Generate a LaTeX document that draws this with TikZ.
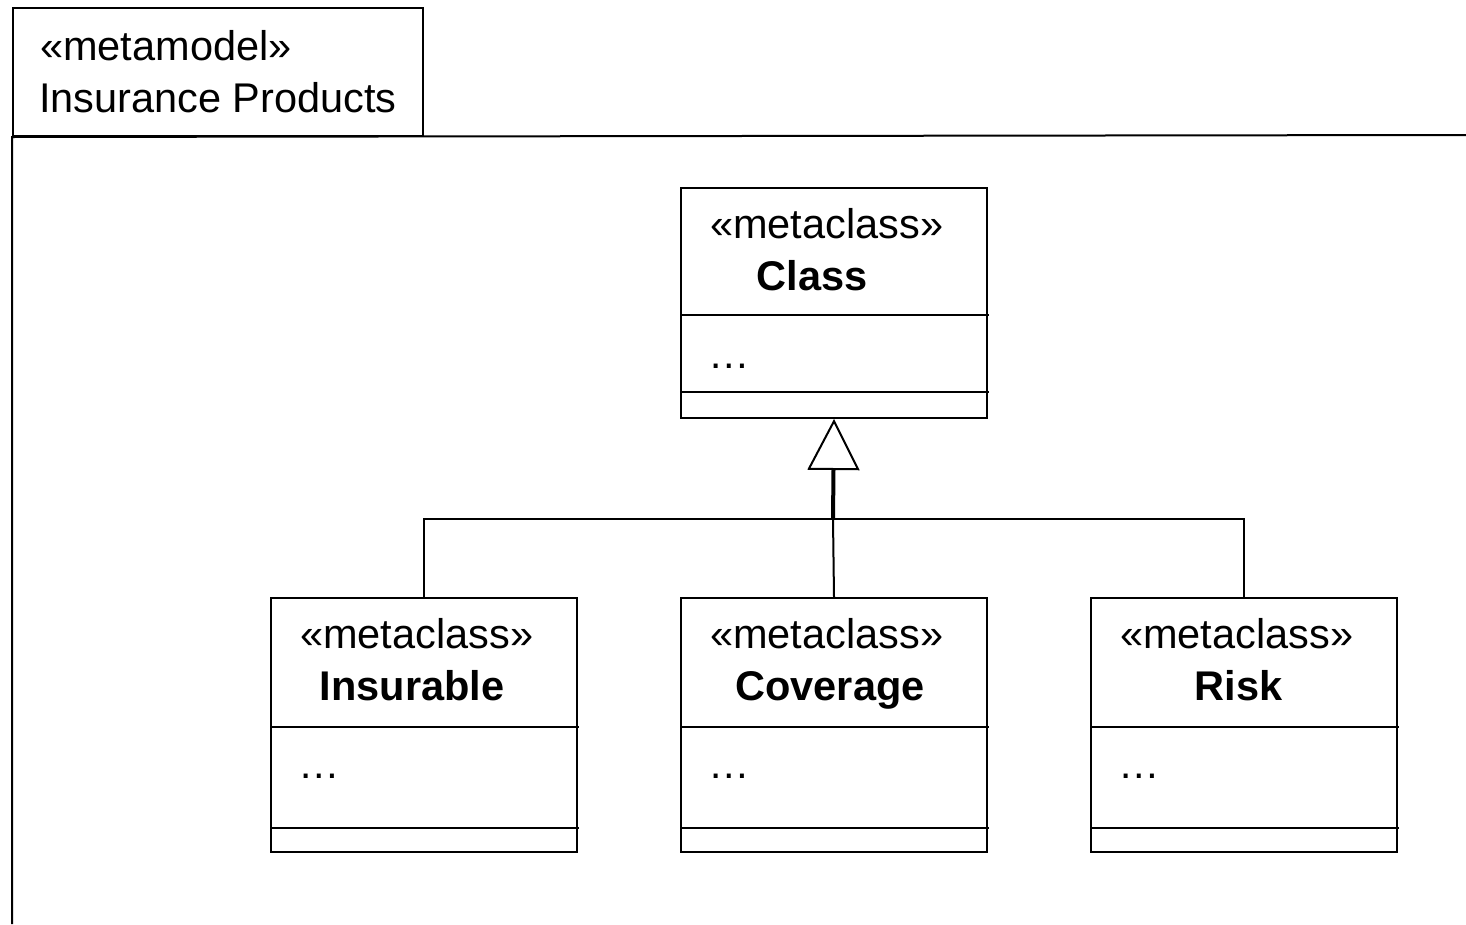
\documentclass[tikz,border=0pt]{standalone}
\usepackage{fontspec}
\setmainfont{Liberation Sans}
\usetikzlibrary{arrows.meta}

\tikzset{
  umlline/.style={line width=2pt},
  classbox/.style={draw, line width=2pt, anchor=north west,
    minimum width=306pt, inner sep=0pt},
  txt/.style={anchor=base west, inner sep=0pt,
    font=\fontsize{41.5}{48}\selectfont},
  btxt/.style={anchor=base, inner sep=0pt,
    font=\fontsize{41.5}{48}\selectfont\bfseries},
}

% #1 name, #2 left, #3 top, #4 height, #5/#6 compartment lines,
% #7 class name, #8 horizontal centre of the name
\newcommand\metaclassbox[8]{%
  \node[classbox, minimum height=#4pt] (#1) at (#2,#3) {};
  \draw[umlline] (#1.north west) ++(0,#5) -- ++(309,0);
  \draw[umlline] (#1.north west) ++(0,#6) -- ++(309,0);
  \node[txt] (#1-st) at (#2+30,#3+51) {«metaclass»};
  \node[btxt] (#1-name) at (#2+#8,#3+103) {#7};
  \node[txt] (#1-dots) at (#2+28,#3+181) {…};
}

\begin{document}
\begin{tikzpicture}[x=1pt, y=-1pt]
  \useasboundingbox (0,0) rectangle (1466,924);

  % package frame with its name tab
  \node[draw, line width=2pt, anchor=north west, minimum width=410pt,
        minimum height=128pt, inner sep=0pt] (tab) at (12,7) {};
  \draw[umlline] (1466,135) -- (tab.south west) -- (12,924);
  \node[txt] (stereo) at (40,60) {«metamodel»};
  \node[txt] (pkgname) at (39,112) {Insurance Products};

  % metaclasses
  \metaclassbox{cls}{680}{187}{230}{128}{205}{Class}{132}
  \metaclassbox{ins}{270}{597}{254}{130}{231}{Insurable}{142}
  \metaclassbox{cov}{680}{597}{254}{130}{231}{Coverage}{150}
  \metaclassbox{risk}{1090}{597}{254}{130}{231}{Risk}{148.5}

  % generalization tree
  \coordinate (jn) at (833,519);
  \draw[umlline] (ins.north) |- (jn) -| (risk.north);
  \draw[umlline] (cov.north) -- (jn);
  \draw[line width=4pt,
        -{Triangle[open, length=51pt, width=52pt, line width=2pt]}]
        (jn) -- (cls.south);
\end{tikzpicture}
\end{document}
